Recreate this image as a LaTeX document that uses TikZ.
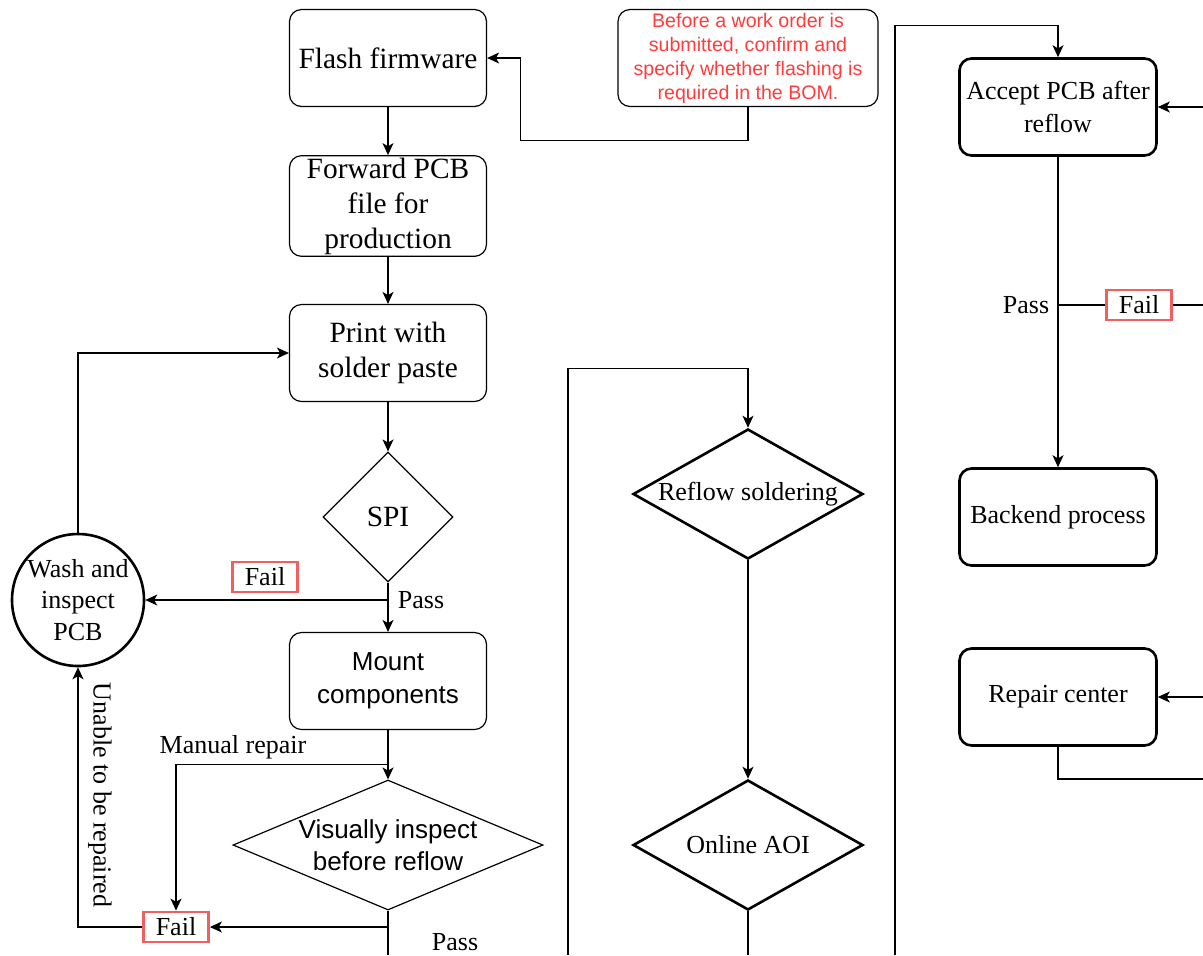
\documentclass[tikz,border=0pt]{standalone}
\usepackage{fontspec}
\setmainfont{Liberation Serif}
\newfontfamily\helvfont{Liberation Sans}
\usetikzlibrary{arrows.meta,shapes.geometric}
\definecolor{notered}{HTML}{FF3B3B}
\definecolor{failred}{HTML}{F25F5F}

\begin{document}
\begin{tikzpicture}[x=0.5pt, y=-0.5pt, line width=0.6pt,
  >={Stealth[length=6pt,width=5.5pt,inset=1.6pt]},
  bigtxt/.style={font=\fontsize{14.7}{17.5}\selectfont},
  smalltxt/.style={font=\fontsize{13}{16.5}\selectfont},
  procbox/.style={draw, rounded corners=6pt, minimum width=98.5pt, minimum height=48.5pt,
    align=center, inner sep=1pt},
  boldbox/.style={procbox, line width=1.3pt, smalltxt},
  decision/.style={diamond, draw, inner sep=0pt},
  failbox/.style={draw=failred, line width=1.4pt, minimum width=32.5pt, minimum height=15pt,
    inner sep=0pt, smalltxt},
  lbl/.style={smalltxt, inner sep=1pt}]
  \useasboundingbox (0,0) rectangle (1203,955);

  % linke Spalte
  \node[procbox, bigtxt] (flash) at (388,58) {Flash firmware};
  \node[procbox, bigtxt] (fwd) at (388,206) {Forward PCB\\file for\\production};
  \node[procbox, bigtxt] (print) at (388,353) {Print with\\solder paste};
  \node[decision, minimum width=65pt, minimum height=65pt,
    label={[bigtxt]center:SPI}] (spi) at (388,517) {};
  \node[procbox, font=\helvfont\fontsize{13}{16.5}\selectfont] (mount) at (388,681) {Mount\\components};
  \node[decision, minimum width=155pt, minimum height=65pt,
    label={[font=\helvfont\fontsize{13}{16}\selectfont, align=center]center:Visually inspect\\before reflow}] (visual) at (388,845) {};
  \node[circle, draw, line width=1.3pt, minimum size=66pt, inner sep=0pt, align=center,
    font=\fontsize{13}{15.7}\selectfont] (wash) at (78,600) {Wash and\\inspect\\PCB};
  \node[failbox] (fail1) at (265,577) {Fail};
  \node[failbox] (fail2) at (176,927) {Fail};
  \node[lbl] (pass1) at (421,600) {Pass};
  \node[lbl] (pass2) at (455,942) {Pass};
  \node[lbl] (manual) at (233,747) {Manual repair};
  \node[lbl, rotate=-90] (unable) at (100,795) {Unable to be repaired};

  % Hinweis
  \node[draw, rounded corners=6pt, minimum width=130pt, minimum height=48.5pt, align=center,
    inner sep=1pt, text=notered, font=\helvfont\fontsize{9.8}{12}\selectfont] (note) at (748,58)
    {Before a work order is\\submitted, confirm and\\specify whether flashing is\\required in the BOM.};

  % mittlere Spalte
  \node[decision, line width=1.3pt, minimum width=115pt, minimum height=65pt,
    label={[smalltxt]center:Reflow soldering}] (reflow) at (748,494) {};
  \node[decision, line width=1.3pt, minimum width=115pt, minimum height=65pt,
    label={[smalltxt]center:Online AOI}] (aoi) at (748,845) {};

  % rechte Spalte
  \node[boldbox] (accept) at (1058,107) {Accept PCB after\\reflow};
  \node[boldbox] (backend) at (1058,517) {Backend process};
  \node[boldbox] (repair) at (1058,697) {Repair center};
  \node[failbox] (fail3) at (1139,305) {Fail};
  \node[lbl] (pass3) at (1026,305) {Pass};

  % lose Enden am Bildrand
  \coordinate (visout) at (388,955);
  \coordinate (midin) at (568,955);
  \coordinate (aoiout) at (748,955);
  \coordinate (rightin) at (895,955);
  \coordinate (accin) at (1203,107);
  \coordinate (failout) at (1203,305);
  \coordinate (repin) at (1203,697);
  \coordinate (repout) at (1203,779);

  % Verbindungen links
  \draw[->] (flash) -- (fwd);
  \draw[->] (fwd) -- (print);
  \draw[->] (print) -- (spi);
  \draw[->] (spi) -- (mount);
  \draw[->] (spi.south |- wash.east) -- (wash.east);
  \draw[->] (wash.north) |- (print.west);
  \draw[->] (mount) -- (visual);
  \draw[->] ([yshift=-17pt]mount.south) -| (fail2.north);
  \draw (visual.south) -- (visout);
  \draw[->] (visual.south |- fail2.east) -- (fail2.east);
  \draw[->] (fail2.west) -| (wash.south);
  \draw[->] (note.south) -- ++(0,33) -| ([xshift=16.5pt]flash.east) -- (flash.east);

  % Verbindungen Mitte
  \draw[->] (midin) |- ([yshift=29.5pt]reflow.north) -- (reflow.north);
  \draw[->] (reflow) -- (aoi);
  \draw (aoi.south) -- (aoiout);

  % Verbindungen rechts
  \draw[->] (rightin) |- ([yshift=16pt]accept.north) -- (accept.north);
  \draw[->] (accin) -- (accept.east);
  \draw[->] (accept) -- (backend);
  \draw (accept.south |- fail3.west) -- (fail3.west);
  \draw (fail3.east) -- (failout);
  \draw[->] (repin) -- (repair.east);
  \draw (repair.south) |- (repout);
\end{tikzpicture}
\end{document}
